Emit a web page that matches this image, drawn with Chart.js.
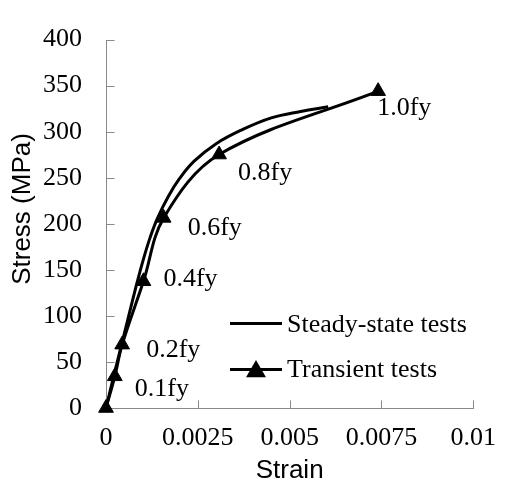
<!DOCTYPE html>
<html>
<head>
<meta charset="utf-8">
<script src="https://cdn.jsdelivr.net/npm/chart.js@4.4.1/dist/chart.umd.min.js"></script>
<style>
  html, body { margin: 0; padding: 0; background: #ffffff; }
  canvas { display: block; }
</style>
</head>
<body>
<canvas id="chart" width="511" height="485"></canvas>
<script>
// Stress-strain curves: steady-state tests vs transient tests
const seriesNames = ['Steady-state tests', 'Transient tests'];
const xAxisTitle = 'Strain';
const yAxisTitle = 'Stress (MPa)';

const steadyStrain = [0, 0.0002, 0.0004, 0.0006, 0.0008, 0.0010, 0.0012, 0.0014, 0.0017, 0.0020, 0.0024, 0.0030, 0.0037, 0.0045, 0.0053, 0.00605];
const steadyStress = [0, 33, 65, 97, 129, 159, 185, 206, 230, 249, 268, 287, 302, 315, 322, 327];

const transientStrain = [0, 0.00024, 0.00044, 0.00102, 0.00157, 0.00308, 0.00741];
const transientStress = [0, 34.4, 68.8, 137.6, 206.4, 275.2, 344];
const transientLabels = ['', '0.1fy', '0.2fy', '0.4fy', '0.6fy', '0.8fy', '1.0fy'];

const xTickValues = [0, 0.0025, 0.005, 0.0075, 0.01];
const yTickValues = [0, 50, 100, 150, 200, 250, 300, 350, 400];

const SERIF = "'Times New Roman', 'Liberation Serif', serif";
const SANS = "Arial, 'Liberation Sans', sans-serif";
const AXIS_GREY = '#898989';

const toPoints = (xs, ys) => xs.map((x, i) => ({ x: x, y: ys[i] }));

// Axis lines with short tick marks pointing into the plot area
const axisPlugin = {
  id: 'axisLines',
  beforeDatasetsDraw(chart) {
    const { ctx, chartArea: a, scales: { x, y } } = chart;
    const tickLen = 8;
    ctx.save();
    ctx.strokeStyle = AXIS_GREY;
    ctx.lineWidth = 1;
    ctx.beginPath();
    const x0 = Math.round(a.left) + 0.5;
    const y0 = Math.round(a.bottom) + 0.5;
    ctx.moveTo(x0, Math.round(a.top));
    ctx.lineTo(x0, y0);
    ctx.lineTo(Math.round(a.right) + 1, y0);
    yTickValues.forEach(v => {
      const py = Math.round(y.getPixelForValue(v)) + 0.5;
      ctx.moveTo(x0, py);
      ctx.lineTo(x0 + tickLen, py);
    });
    xTickValues.forEach(v => {
      const px = Math.round(x.getPixelForValue(v)) + 0.5;
      ctx.moveTo(px, y0);
      ctx.lineTo(px, y0 - tickLen);
    });
    ctx.stroke();

    // vertical axis title, rotated
    ctx.fillStyle = '#000000';
    ctx.font = '26px ' + SANS;
    ctx.textAlign = 'center';
    ctx.textBaseline = 'middle';
    ctx.translate(23, 209);
    ctx.rotate(-Math.PI / 2);
    ctx.fillText(yAxisTitle, 0, 0);
    ctx.restore();
  }
};

// Load-level labels beside the transient test markers
const labelOffsets = [[0, 0], [20, 20], [24, 12], [20, 5], [24, 17], [19, 25], [-1, 24]];
const pointLabelPlugin = {
  id: 'pointLabels',
  afterDatasetsDraw(chart) {
    const { ctx } = chart;
    const meta = chart.getDatasetMeta(1);
    ctx.save();
    ctx.font = '26px ' + SERIF;
    ctx.fillStyle = '#000000';
    ctx.textAlign = 'left';
    ctx.textBaseline = 'alphabetic';
    meta.data.forEach((pt, i) => {
      const text = transientLabels[i];
      if (!text) return;
      const off = labelOffsets[i];
      ctx.fillText(text, pt.x + off[0], pt.y + off[1]);
    });
    ctx.restore();
  }
};

// Legend drawn inside the plot area
const innerLegendPlugin = {
  id: 'innerLegend',
  afterDraw(chart) {
    const { ctx } = chart;
    const rows = [
      { ds: chart.data.datasets[0], lineY: 323.5, textY: 332 },
      { ds: chart.data.datasets[1], lineY: 369.5, textY: 377 }
    ];
    const x1 = 230, x2 = 282, textX = 287;
    ctx.save();
    rows.forEach(r => {
      ctx.strokeStyle = '#000000';
      ctx.lineWidth = 3;
      ctx.lineCap = 'butt';
      ctx.beginPath();
      ctx.moveTo(x1, r.lineY);
      ctx.lineTo(x2, r.lineY);
      ctx.stroke();
      if (r.ds.pointRadius > 0) {
        Chart.helpers.drawPoint(ctx, {
          pointStyle: r.ds.pointStyle,
          radius: r.ds.pointRadius,
          borderWidth: 1
        }, (x1 + x2) / 2, r.lineY + 2);
        ctx.fillStyle = '#000000';
        ctx.fill();
      }
      ctx.fillStyle = '#000000';
      ctx.font = '26px ' + SERIF;
      ctx.textAlign = 'left';
      ctx.textBaseline = 'alphabetic';
      ctx.fillText(r.ds.label, textX, r.textY);
    });
    ctx.restore();
  }
};

new Chart(document.getElementById('chart'), {
  type: 'scatter',
  data: {
    datasets: [
      {
        label: seriesNames[0],
        data: toPoints(steadyStrain, steadyStress),
        showLine: true,
        borderColor: '#000000',
        backgroundColor: '#000000',
        borderWidth: 3,
        pointRadius: 0,
        pointHoverRadius: 0,
        tension: 0.4,
        clip: false
      },
      {
        label: seriesNames[1],
        data: toPoints(transientStrain, transientStress),
        showLine: true,
        borderColor: '#000000',
        backgroundColor: '#000000',
        borderWidth: 3,
        pointStyle: 'triangle',
        pointRadius: 8.5,
        pointBorderWidth: 1,
        pointBackgroundColor: '#000000',
        pointBorderColor: '#000000',
        tension: 0.35,
        clip: false
      }
    ]
  },
  options: {
    responsive: false,
    animation: false,
    devicePixelRatio: 1,
    layout: { padding: { top: 22, right: 24, left: 0, bottom: 0 } },
    plugins: {
      legend: { display: false },
      tooltip: { enabled: false }
    },
    scales: {
      x: {
        type: 'linear',
        min: 0,
        max: 0.01,
        afterBuildTicks: s => { s.ticks = xTickValues.map(v => ({ value: v })); },
        afterFit: s => { s.height = 77; },
        grid: { display: false, drawTicks: false },
        border: { display: false },
        ticks: {
          padding: 15,
          color: '#000000',
          font: { family: SERIF, size: 26 },
          maxRotation: 0,
          autoSkip: false,
          callback: v => String(v)
        },
        title: {
          display: true,
          text: xAxisTitle,
          color: '#000000',
          font: { family: SANS, size: 26, lineHeight: 1 },
          padding: { top: 0, bottom: 1 }
        }
      },
      y: {
        type: 'linear',
        min: 0,
        max: 400,
        afterBuildTicks: s => { s.ticks = yTickValues.map(v => ({ value: v })); },
        afterFit: s => { s.width = 106; },
        grid: { display: false, drawTicks: false },
        border: { display: false },
        ticks: {
          padding: 24,
          color: '#000000',
          font: { family: SERIF, size: 26 },
          autoSkip: false,
          callback: v => String(v)
        },
        title: { display: false }
      }
    }
  },
  plugins: [axisPlugin, pointLabelPlugin, innerLegendPlugin]
});
</script>
</body>
</html>
